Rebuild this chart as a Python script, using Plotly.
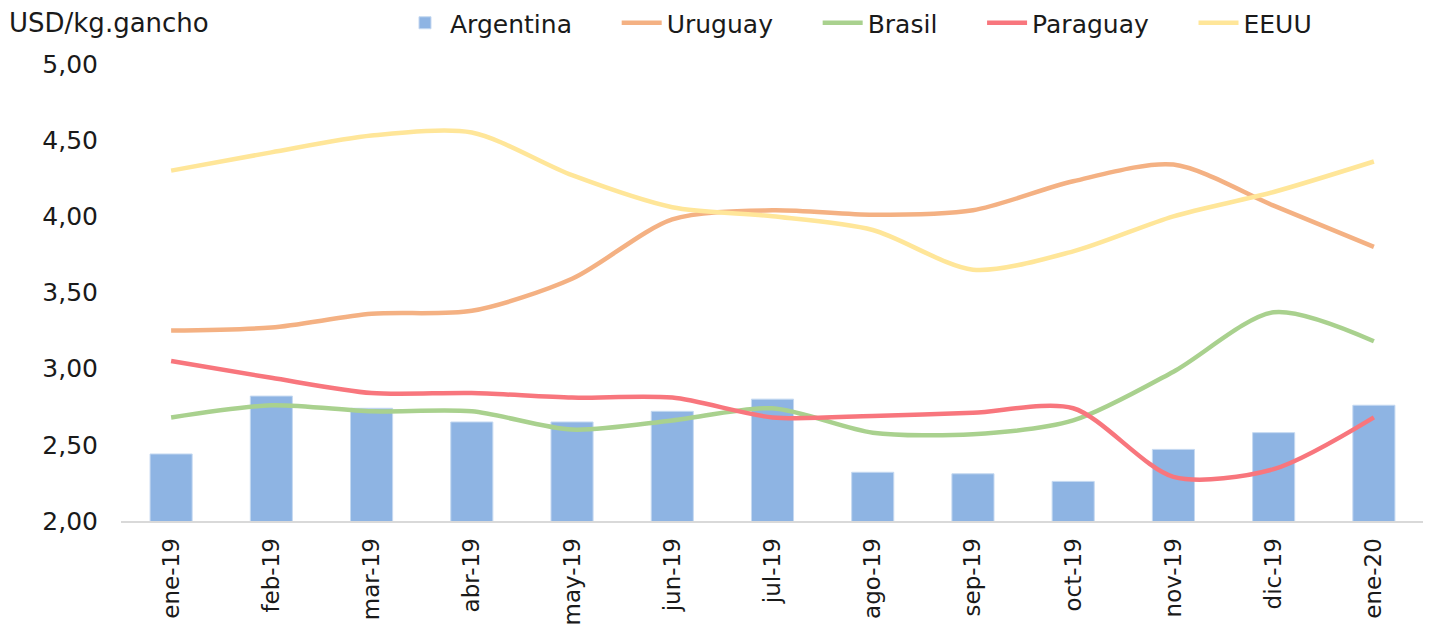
import plotly.graph_objects as go

months = ["ene-19", "feb-19", "mar-19", "abr-19", "may-19", "jun-19", "jul-19",
          "ago-19", "sep-19", "oct-19", "nov-19", "dic-19", "ene-20"]
argentina = [2.44, 2.82, 2.74, 2.65, 2.65, 2.72, 2.80, 2.32, 2.31, 2.26, 2.47, 2.58, 2.76]
uruguay = [3.25, 3.27, 3.36, 3.38, 3.59, 3.98, 4.04, 4.01, 4.04, 4.23, 4.34, 4.07, 3.80]
brasil = [2.68, 2.76, 2.72, 2.72, 2.60, 2.66, 2.74, 2.58, 2.57, 2.66, 2.98, 3.37, 3.18]
paraguay = [3.05, 2.94, 2.84, 2.84, 2.81, 2.81, 2.68, 2.69, 2.71, 2.74, 2.29, 2.34, 2.68]
eeuu = [4.30, 4.42, 4.53, 4.55, 4.27, 4.06, 4.00, 3.91, 3.65, 3.77, 4.00, 4.16, 4.36]

FONT = "DejaVu Sans"
TXT = "#1a1a1a"
PAD = "\u00a0" * 5

fig = go.Figure()
fig.add_trace(go.Bar(x=months, y=argentina, name="Argentina" + PAD,
                     marker=dict(color="#8EB4E3", line=dict(color="#C5D9F1", width=1)),
                     width=0.42))
lines = [("Uruguay" + PAD, uruguay, "#F4B183"), ("Brasil" + PAD, brasil, "#A9D18E"),
         ("Paraguay" + PAD, paraguay, "#F8767D"), ("EEUU", eeuu, "#FFE699")]
for name, vals, col in lines:
    fig.add_trace(go.Scatter(x=months, y=vals, name=name, mode="lines",
                             line=dict(color=col, width=4.5, shape="spline", smoothing=0.8)))

fig.update_layout(
    width=1431, height=630,
    margin=dict(l=113, r=15, t=56, b=117),
    plot_bgcolor="white", paper_bgcolor="white",
    separators=",.",
    font=dict(family=FONT, size=24, color=TXT),
    showlegend=True,
    legend=dict(orientation="h", x=0.566, xanchor="center",
                yref="container", y=1 - 15 / 630, yanchor="middle",
                font=dict(family=FONT, size=25, color=TXT),
                itemwidth=40, traceorder="normal", bgcolor="rgba(0,0,0,0)"),
    xaxis=dict(type="category", tickangle=-90, showgrid=False, showline=True,
               linecolor="#D9D9D9", linewidth=2, ticks="", automargin=False,
               tickfont=dict(family=FONT, size=23, color=TXT), ticklabelstandoff=6),
    yaxis=dict(range=[2, 5], tickvals=[2, 2.5, 3, 3.5, 4, 4.5, 5], tickformat=".2f",
               showgrid=False, zeroline=False, showline=False, ticks="", automargin=False,
               tickfont=dict(family=FONT, size=25, color=TXT), ticklabelstandoff=22),
    annotations=[dict(text="USD/kg.gancho", xref="paper", yref="paper", x=0, xshift=-114,
                      y=1, yshift=41, xanchor="left", yanchor="middle", showarrow=False,
                      font=dict(family=FONT, size=26, color=TXT))],
)
fig.write_html("out.html")
